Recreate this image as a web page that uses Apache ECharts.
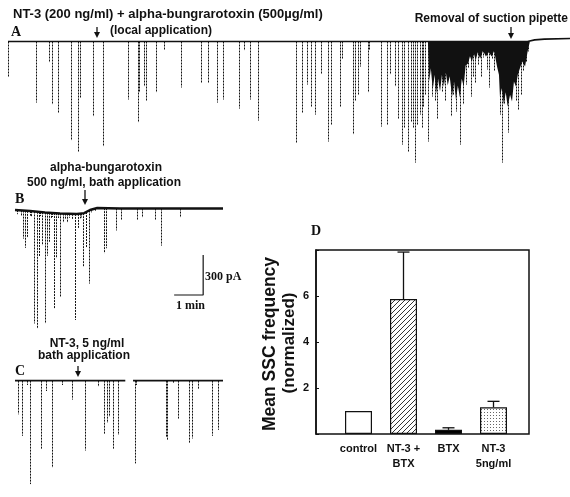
<!DOCTYPE html>
<html>
<head>
<meta charset="utf-8">
<script src="https://cdn.jsdelivr.net/npm/echarts@6/dist/echarts.min.js"></script>
<style>
  html, body { margin: 0; padding: 0; background: #fff; }
  #chart { width: 570px; height: 497px; }
</style>
</head>
<body>
<div id="chart"></div>
<script>
// time in s, current in pA (negative = inward)
const traceABase = [[0, 0], [1075, 0], [1090, 12], [1110, 18], [1163, 22]];
const traceASpikes = [
  [1, -270], [58, -458], [85, -158], [91, -473], [103, -533], [130, -743], [145, -825], [149, -420],
  [176, -563], [197, -788], [248, -435], [269, -608], [271, -383], [281, -338], [286, -443], [306, -383],
  [323, -60], [358, -345], [399, -308], [414, -315], [432, -458], [445, -435], [478, -503], [488, -68],
  [501, -435], [517, -593], [596, -758], [608, -533], [619, -323], [627, -488], [635, -548], [648, -240],
  [662, -750], [668, -623], [687, -495], [691, -135], [714, -698], [718, -450], [724, -398], [728, -188],
  [745, -383], [747, -60], [772, -638], [784, -623], [790, -248], [801, -338], [807, -585], [815, -773],
  [819, -645], [828, -825], [834, -600], [838, -645], [842, -908], [846, -623], [852, -548], [857, -645],
  [859, -488], [863, -398], [869, -750], [877, -413], [883, -450], [888, -585], [892, -323], [898, -375],
  [904, -450], [910, -270], [917, -563], [921, -398], [927, -525], [931, -345], [935, -773], [941, -473],
  [948, -323], [952, -195], [958, -413], [962, -270], [966, -308], [972, -173], [979, -263], [983, -120],
  [991, -210], [995, -345], [1001, -135], [1006, -225], [1012, -98], [1018, -548], [1022, -908], [1026, -473],
  [1030, -398], [1034, -683], [1041, -360], [1045, -248], [1051, -450], [1055, -510], [1061, -398], [1066, -225],
  [1072, -150], [1076, -75]
];
// envelope of the dense, overlapping burst before the pipette is removed
const traceABurst = [
  [869, 0], [872, -300], [875, -200], [879, -360], [883, -250], [886, -390], [890, -280], [894, -375],
  [898, -250], [902, -340], [906, -230], [910, -330], [914, -260], [919, -413], [923, -300], [927, -435],
  [931, -330], [935, -420], [939, -280], [943, -338], [947, -180], [952, -165], [956, -110], [960, -150],
  [964, -90], [968, -140], [972, -80], [977, -130], [983, -70], [989, -113], [995, -80], [1001, -113],
  [1006, -70], [1012, -188], [1016, -250], [1018, -413], [1022, -350], [1026, -470], [1030, -380], [1034, -488],
  [1039, -400], [1043, -450], [1047, -300], [1051, -338], [1055, -250], [1059, -263], [1064, -150], [1070, -188],
  [1075, -80], [1080, 0]
];

const traceBBase = [[0, 0], [31, -8], [62, -19], [93, -26], [128, -30], [143, -23], [155, 0], [170, 15], [217, 11], [430, 11]];
const traceBSpikes = [
  [5, -30], [12, -40], [17, -210], [21, -278], [25, -203], [30, -35], [33, -45], [39, -840], [46, -878],
  [50, -330], [52, -30], [56, -248], [62, -833], [66, -323], [70, -225], [74, -40], [77, -30], [81, -713],
  [85, -338], [89, -35], [93, -630], [99, -68], [103, -45], [108, -68], [112, -30], [118, -40], [124, -795],
  [130, -105], [134, -35], [137, -30], [141, -405], [147, -270], [153, -548], [158, -25], [165, -20],
  [184, -338], [188, -300], [209, -165], [219, -83], [252, -90], [263, -68], [290, -90], [302, -278], [341, -68]
];

const traceCBase1 = [[0, 0], [228, 0]];
const traceCBase2 = [[244, 0], [430, 0]];
const traceCSpikes = [
  [6, -293], [14, -480], [25, -38], [31, -900], [54, -600], [64, -90], [77, -758], [97, -38], [118, -165],
  [145, -608], [172, -53], [184, -465], [190, -368], [194, -315], [203, -593], [213, -473],
  [248, -720], [250, -38], [312, -488], [314, -518], [327, -23], [337, -330], [360, -540], [366, -503],
  [379, -75], [408, -480], [420, -428]
];

const scaleTime = 60;   // s
const scaleAmp = 300;   // pA

const conditions = ["control", "NT-3 +\nBTX", "BTX", "NT-3\n5ng/ml"];
const meanFreq = [1.0, 5.87, 0.18, 1.16];
const semFreq = [0, 2.04, 0.09, 0.26];

const chart = echarts.init(document.getElementById("chart"));

function baseAt(base, t) {
  for (let i = 1; i < base.length; i++) {
    if (t <= base[i][0]) {
      const [t0, v0] = base[i - 1];
      const [t1, v1] = base[i];
      return v0 + (v1 - v0) * (t - t0) / (t1 - t0);
    }
  }
  return base[base.length - 1][1];
}

function baselineSeries(idx, data, width) {
  return {
    type: "line", xAxisIndex: idx, yAxisIndex: idx, data,
    showSymbol: false, silent: true, clip: false,
    lineStyle: { color: "#111", width: width || 1.6 }
  };
}

function spikeSeries(idx, data, base) {
  return {
    type: "custom", xAxisIndex: idx, yAxisIndex: idx, data, silent: true, clip: false,
    renderItem: (params, api) => {
      const t = api.value(0);
      const b = baseAt(base, t);
      const p0 = api.coord([t, b]);
      const p1 = api.coord([t, b + api.value(1)]);
      const x = Math.round(p0[0]) + 0.5;
      return {
        type: "line",
        shape: { x1: x, y1: p0[1], x2: x, y2: p1[1] },
        style: { stroke: "#111", lineWidth: 1, lineDash: [2, 1] }
      };
    }
  };
}

function makePattern(kind) {
  const c = document.createElement("canvas");
  const ctx = c.getContext("2d");
  if (kind === "hatch") {
    c.width = c.height = 5;
    ctx.strokeStyle = "#000";
    ctx.lineWidth = 0.8;
    ctx.beginPath();
    ctx.moveTo(0, 5); ctx.lineTo(5, 0);
    ctx.moveTo(-1, 1); ctx.lineTo(1, -1);
    ctx.moveTo(4, 6); ctx.lineTo(6, 4);
    ctx.stroke();
  } else {
    c.width = c.height = 3;
    ctx.fillStyle = "#fff";
    ctx.fillRect(0, 0, 3, 3);
    ctx.fillStyle = "#666";
    ctx.fillRect(1, 1, 1, 1);
  }
  return { image: c, repeat: "repeat" };
}

const barFills = ["#fff", makePattern("hatch"), "#000", makePattern("dots")];

const traceY = { type: "value", min: -1012.5, max: 112.5, show: false };
const sans = "bold 12px 'Liberation Sans', Arial, sans-serif";
const serifL = "bold 14px 'Liberation Serif', 'Times New Roman', serif";
const serifS = "bold 12px 'Liberation Serif', 'Times New Roman', serif";

function label(text, x, y, font, align) {
  return {
    type: "text", x, y, silent: true,
    style: { text, font: font || sans, fill: "#111", align: align || "left", verticalAlign: "middle" }
  };
}

function arrow(x, y1, y2) {
  return {
    type: "group", silent: true,
    children: [
      { type: "line", shape: { x1: x, y1, x2: x, y2: y2 - 4 }, style: { stroke: "#111", lineWidth: 1.3 } },
      { type: "polygon", shape: { points: [[x - 3, y2 - 6], [x + 3, y2 - 6], [x, y2]] }, style: { fill: "#111" } }
    ]
  };
}

chart.setOption({
  animation: false,
  grid: [
    { left: 8, top: 26.5, width: 562, height: 150 },
    { left: 15, top: 195, width: 208, height: 150 },
    { left: 15, top: 367.7, width: 208, height: 150 },
    { left: 316, top: 250, width: 213, height: 184, show: true, borderColor: "#111", borderWidth: 1.5 },
    { left: 336, top: 250, width: 180, height: 184 }
  ],
  xAxis: [
    { gridIndex: 0, type: "value", min: 0, max: 1163, show: false },
    { gridIndex: 1, type: "value", min: 0, max: 430, show: false },
    { gridIndex: 2, type: "value", min: 0, max: 430, show: false },
    { gridIndex: 3, type: "value", min: 0, max: 1, show: false },
    {
      gridIndex: 4, type: "category", data: conditions,
      axisLine: { show: false }, axisTick: { show: false },
      axisLabel: { interval: 0, color: "#111", fontFamily: "'Liberation Sans', Arial, sans-serif", fontWeight: "bold", fontSize: 11, lineHeight: 15, margin: 7 }
    }
  ],
  yAxis: [
    Object.assign({ gridIndex: 0 }, traceY),
    Object.assign({ gridIndex: 1 }, traceY),
    Object.assign({ gridIndex: 2 }, traceY),
    {
      gridIndex: 3, type: "value", min: 0, max: 8, interval: 2,
      splitLine: { show: false },
      axisLine: { show: true, lineStyle: { color: "#111", width: 1.5 } },
      axisTick: { show: true, inside: true, length: 3, lineStyle: { color: "#111" } },
      axisLabel: {
        color: "#111", fontFamily: "'Liberation Sans', Arial, sans-serif", fontWeight: "bold", fontSize: 11, margin: 7,
        formatter: (v) => (v === 0 || v === 8 ? "" : String(v))
      }
    },
    { gridIndex: 4, type: "value", min: 0, max: 8, show: false }
  ],
  series: [
    {
      type: "line", xAxisIndex: 0, yAxisIndex: 0, data: traceABurst,
      showSymbol: false, silent: true, lineStyle: { width: 0 },
      areaStyle: { color: "#111", opacity: 1 }
    },
    spikeSeries(0, traceASpikes, traceABase),
    baselineSeries(0, traceABase),
    spikeSeries(1, traceBSpikes, traceBBase),
    baselineSeries(1, traceBBase, 2.4),
    spikeSeries(2, traceCSpikes, traceCBase1),
    baselineSeries(2, traceCBase1),
    baselineSeries(2, traceCBase2),
    {
      // scale bar, drawn in panel B's units
      type: "line", xAxisIndex: 1, yAxisIndex: 1, showSymbol: false, silent: true,
      data: [[389 - scaleTime, -637.5], [389, -637.5], [389, -637.5 + scaleAmp]],
      lineStyle: { color: "#111", width: 1.2 }
    },
    {
      type: "bar", xAxisIndex: 4, yAxisIndex: 4, barWidth: 27,
      data: meanFreq.map((v, i) => ({
        value: v,
        itemStyle: { color: barFills[i], borderColor: "#111", borderWidth: 1.2 }
      }))
    },
    {
      type: "custom", xAxisIndex: 4, yAxisIndex: 4, silent: true,
      data: meanFreq.map((v, i) => [i, v, v + semFreq[i]]).filter((d, i) => semFreq[i] > 0),
      renderItem: (params, api) => {
        const p0 = api.coord([api.value(0), api.value(1)]);
        const p1 = api.coord([api.value(0), api.value(2)]);
        return {
          type: "group",
          children: [
            { type: "line", shape: { x1: p0[0], y1: p0[1], x2: p1[0], y2: p1[1] }, style: { stroke: "#111", lineWidth: 1.3 } },
            { type: "line", shape: { x1: p1[0] - 6, y1: p1[1], x2: p1[0] + 6, y2: p1[1] }, style: { stroke: "#111", lineWidth: 1.3 } }
          ]
        };
      }
    }
  ],
  graphic: [
    label("NT-3 (200 ng/ml) + alpha-bungrarotoxin (500\u00b5g/ml)", 13, 14, "bold 13px 'Liberation Sans', Arial, sans-serif"),
    label("(local application)", 110, 31),
    label("A", 11, 32, serifL),
    arrow(97, 27, 38),
    label("Removal of suction pipette", 568, 19, sans, "right"),
    arrow(511, 27, 39),
    label("alpha-bungarotoxin", 106, 168, sans, "center"),
    label("500 ng/ml, bath application", 104, 183, sans, "center"),
    label("B", 15, 199, serifL),
    arrow(85, 190, 205),
    label("300 pA", 205, 277, serifS),
    label("1 min", 176, 306, serifS),
    label("NT-3, 5 ng/ml", 87, 344, sans, "center"),
    label("bath application", 84, 356, sans, "center"),
    label("C", 15, 371, serifL),
    arrow(78, 366, 377),
    label("D", 311, 231, serifL),
    {
      type: "text", x: 270, y: 344, rotation: Math.PI / 2, silent: true,
      style: { text: "Mean SSC frequency", font: "bold 17.5px 'Liberation Sans', Arial, sans-serif", fill: "#111", align: "center", verticalAlign: "middle" }
    },
    {
      type: "text", x: 289, y: 343, rotation: Math.PI / 2, silent: true,
      style: { text: "(normalized)", font: "bold 17px 'Liberation Sans', Arial, sans-serif", fill: "#111", align: "center", verticalAlign: "middle" }
    }
  ]
});
</script>
</body>
</html>
